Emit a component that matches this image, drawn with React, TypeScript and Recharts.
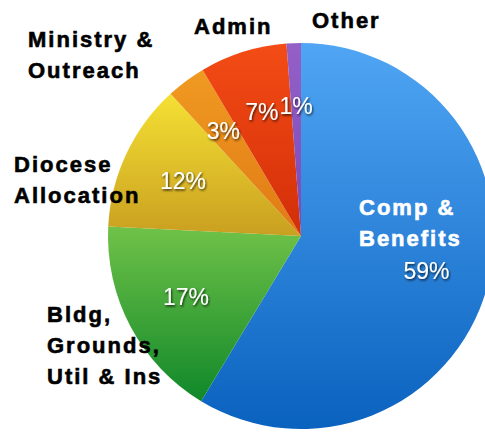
import { PieChart, Pie, Cell } from 'recharts';

const categories = ['Comp & Benefits', 'Bldg, Grounds, Util & Ins', 'Diocese Allocation', 'Ministry & Outreach', 'Admin', 'Other'];
const shares = [58.6, 17.1, 12.4, 3.3, 7.3, 1.2];
const nameLines = [
    ['Comp &', 'Benefits'],
    ['Bldg,', 'Grounds,', 'Util & Ins'],
    ['Diocese', 'Allocation'],
    ['Ministry &', 'Outreach'],
    ['Admin'],
    ['Other'],
];

const data = categories.map((name, i) => ({ name, value: shares[i] }));

// top / bottom colours of each slice gradient
const GRADS = [
    ['#50a6f4', '#0a62bf'],
    ['#70c248', '#10882a'],
    ['#f5e134', '#c99f20'],
    ['#f09a22', '#e07a14'],
    ['#f44c16', '#d22e08'],
    ['#9460c8', '#7c48b4'],
];

// where the category names sit, relative to the pie centre
const NAME_POS = [
    { dx: 58, dy: -21, color: '#fff' },
    { dx: -254, dy: 86, color: '#000' },
    { dx: -287, dy: -64, color: '#000' },
    { dx: -273, dy: -189, color: '#000' },
    { dx: -107, dy: -202, color: '#000' },
    { dx: 11, dy: -208, color: '#000' },
];

const RAD = Math.PI / 180;

function renderLabel(props: any) {
    const { cx, cy, midAngle, outerRadius, index, value } = props;
    const r = outerRadius * 0.675;
    const x = cx + r * Math.cos(-midAngle * RAD);
    const y = cy + r * Math.sin(-midAngle * RAD);
    const pos = NAME_POS[index];
    return (
        <g key={`lbl-${index}`}>
            <text x={x} y={y} textAnchor="middle" dominantBaseline="central" fill="#fff"
                fontSize={23} fontFamily="Liberation Sans, Arial, sans-serif" filter="url(#shadow)">
                {`${Math.round(value)}%`}
            </text>
            {nameLines[index].map((line, j) => (
                <text key={j} x={cx + pos.dx} y={cy + pos.dy + j * 31} fill={pos.color}
                    stroke={pos.color} strokeWidth={0.6}
                    fontSize={22} fontWeight="bold" letterSpacing={2}
                    fontFamily="Liberation Sans, Arial, sans-serif">
                    {line}
                </text>
            ))}
        </g>
    );
}

export default function App() {
    return (
        <div style={{ position: 'absolute', left: 0, top: 0, background: '#fff' }}>
            <PieChart width={485} height={433} margin={{ top: 0, right: 0, bottom: 0, left: 0 }}>
                <defs>
                    {GRADS.map((g, i) => (
                        <linearGradient key={i} id={`grad-${i}`} x1="0" y1="0" x2="0" y2="1">
                            <stop offset="0%" stopColor={g[0]} />
                            <stop offset="100%" stopColor={g[1]} />
                        </linearGradient>
                    ))}
                    <filter id="shadow" x="-20%" y="-20%" width="140%" height="140%">
                        <feDropShadow dx="1" dy="1.5" stdDeviation="1" floodColor="#000" floodOpacity="0.75" />
                    </filter>
                </defs>
                <Pie
                    data={data}
                    dataKey="value"
                    cx={301}
                    cy={236}
                    outerRadius={193}
                    startAngle={90}
                    endAngle={-270}
                    stroke="none"
                    labelLine={false}
                    label={renderLabel}
                    isAnimationActive={false}
                >
                    {data.map((entry, index) => (
                        <Cell key={`cell-${index}`} fill={`url(#grad-${index})`} />
                    ))}
                </Pie>
            </PieChart>
        </div>
    );
}
